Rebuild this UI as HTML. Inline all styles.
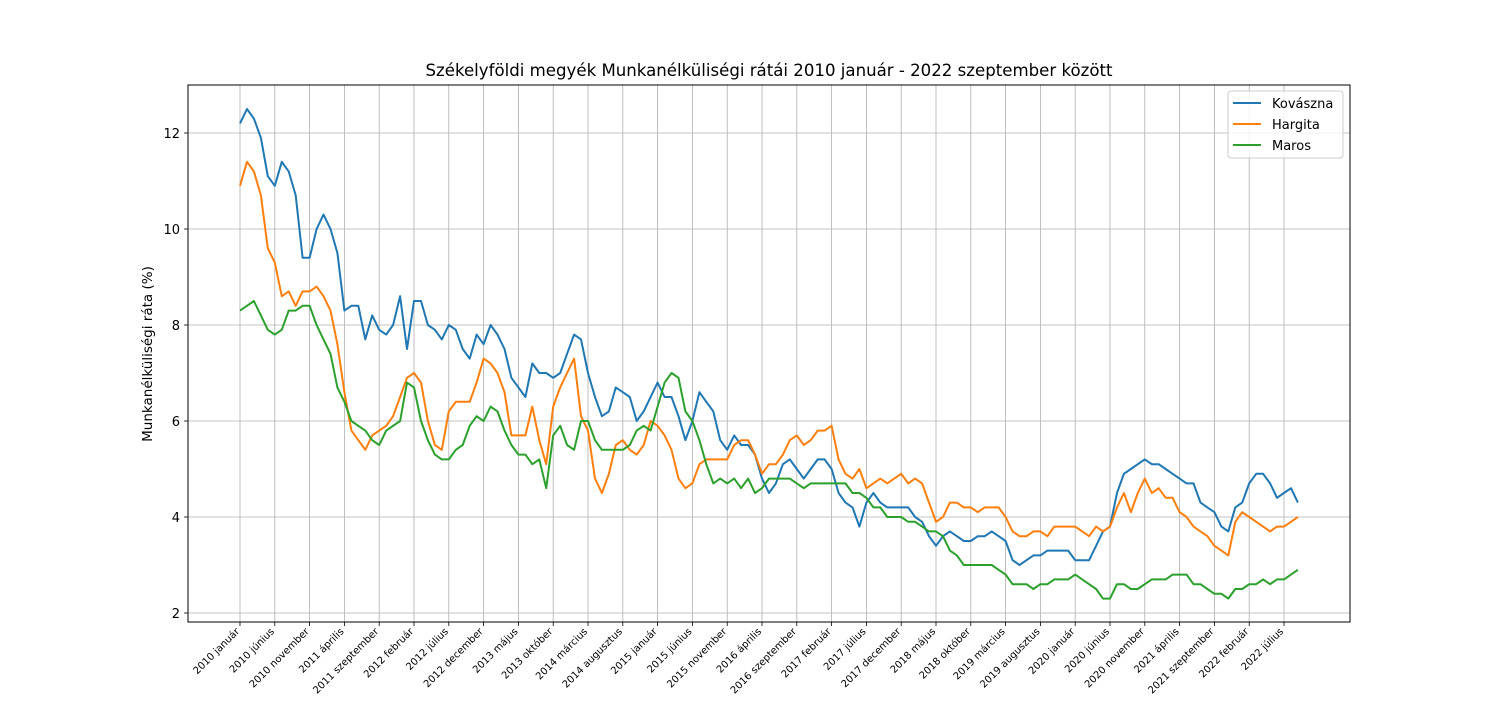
<!DOCTYPE html>
<html><head><meta charset="utf-8"><style>
body{margin:0;background:#fff;}
svg text{font-family:"DejaVu Sans","Liberation Sans",sans-serif;}
</style></head><body>
<svg id="chart" width="1500" height="700" xmlns="http://www.w3.org/2000/svg"></svg>
<script>
const months=["január","február","március","április","május","június","július","augusztus","szeptember","október","november","december"];
const yTicks=[2,4,6,8,10,12];
const kovaszna=[12.2,12.5,12.3,11.9,11.1,10.9,11.4,11.2,10.7,9.4,9.4,10.0,10.3,10.0,9.5,8.3,8.4,8.4,7.7,8.2,7.9,7.8,8.0,8.6,7.5,8.5,8.5,8.0,7.9,7.7,8.0,7.9,7.5,7.3,7.8,7.6,8.0,7.8,7.5,6.9,6.7,6.5,7.2,7.0,7.0,6.9,7.0,7.4,7.8,7.7,7.0,6.5,6.1,6.2,6.7,6.6,6.5,6.0,6.2,6.5,6.8,6.5,6.5,6.1,5.6,6.0,6.6,6.4,6.2,5.6,5.4,5.7,5.5,5.5,5.3,4.8,4.5,4.7,5.1,5.2,5.0,4.8,5.0,5.2,5.2,5.0,4.5,4.3,4.2,3.8,4.3,4.5,4.3,4.2,4.2,4.2,4.2,4.0,3.9,3.6,3.4,3.6,3.7,3.6,3.5,3.5,3.6,3.6,3.7,3.6,3.5,3.1,3.0,3.1,3.2,3.2,3.3,3.3,3.3,3.3,3.1,3.1,3.1,3.4,3.7,3.8,4.5,4.9,5.0,5.1,5.2,5.1,5.1,5.0,4.9,4.8,4.7,4.7,4.3,4.2,4.1,3.8,3.7,4.2,4.3,4.7,4.9,4.9,4.7,4.4,4.5,4.6,4.3];
const hargita=[10.9,11.4,11.2,10.7,9.6,9.3,8.6,8.7,8.4,8.7,8.7,8.8,8.6,8.3,7.6,6.6,5.8,5.6,5.4,5.7,5.8,5.9,6.1,6.5,6.9,7.0,6.8,6.0,5.5,5.4,6.2,6.4,6.4,6.4,6.8,7.3,7.2,7.0,6.6,5.7,5.7,5.7,6.3,5.6,5.1,6.3,6.7,7.0,7.3,6.1,5.8,4.8,4.5,4.9,5.5,5.6,5.4,5.3,5.5,6.0,5.9,5.7,5.4,4.8,4.6,4.7,5.1,5.2,5.2,5.2,5.2,5.5,5.6,5.6,5.3,4.9,5.1,5.1,5.3,5.6,5.7,5.5,5.6,5.8,5.8,5.9,5.2,4.9,4.8,5.0,4.6,4.7,4.8,4.7,4.8,4.9,4.7,4.8,4.7,4.3,3.9,4.0,4.3,4.3,4.2,4.2,4.1,4.2,4.2,4.2,4.0,3.7,3.6,3.6,3.7,3.7,3.6,3.8,3.8,3.8,3.8,3.7,3.6,3.8,3.7,3.8,4.2,4.5,4.1,4.5,4.8,4.5,4.6,4.4,4.4,4.1,4.0,3.8,3.7,3.6,3.4,3.3,3.2,3.9,4.1,4.0,3.9,3.8,3.7,3.8,3.8,3.9,4.0];
const maros=[8.3,8.4,8.5,8.2,7.9,7.8,7.9,8.3,8.3,8.4,8.4,8.0,7.7,7.4,6.7,6.4,6.0,5.9,5.8,5.6,5.5,5.8,5.9,6.0,6.8,6.7,6.0,5.6,5.3,5.2,5.2,5.4,5.5,5.9,6.1,6.0,6.3,6.2,5.8,5.5,5.3,5.3,5.1,5.2,4.6,5.7,5.9,5.5,5.4,6.0,6.0,5.6,5.4,5.4,5.4,5.4,5.5,5.8,5.9,5.8,6.3,6.8,7.0,6.9,6.2,6.0,5.6,5.1,4.7,4.8,4.7,4.8,4.6,4.8,4.5,4.6,4.8,4.8,4.8,4.8,4.7,4.6,4.7,4.7,4.7,4.7,4.7,4.7,4.5,4.5,4.4,4.2,4.2,4.0,4.0,4.0,3.9,3.9,3.8,3.7,3.7,3.6,3.3,3.2,3.0,3.0,3.0,3.0,3.0,2.9,2.8,2.6,2.6,2.6,2.5,2.6,2.6,2.7,2.7,2.7,2.8,2.7,2.6,2.5,2.3,2.3,2.6,2.6,2.5,2.5,2.6,2.7,2.7,2.7,2.8,2.8,2.8,2.6,2.6,2.5,2.4,2.4,2.3,2.5,2.5,2.6,2.6,2.7,2.6,2.7,2.7,2.8,2.9];
const seriesNames=["Kovászna","Hargita","Maros"];
const colors=["#1f77b4","#ff7f0e","#2ca02c"];

const svg=document.getElementById('chart');
const NS="http://www.w3.org/2000/svg";
function mk(tag,attrs,parent){const e=document.createElementNS(NS,tag);for(const k in attrs)e.setAttribute(k,attrs[k]);(parent||svg).appendChild(e);return e;}
const L=188,R=1350,T=85,B=622;
const xS=i=>240+i*(1284-240)/150;
const yS=v=>613-(v-2)*48;

const grid=mk('g',{});


for(let i=0;i<kovaszna.length;i+=5){
  const x=xS(i);
  mk('line',{x1:x,x2:x,y1:T,y2:B,stroke:'#b0b0b0','stroke-width':0.8},grid);
  mk('line',{x1:x,x2:x,y1:B,y2:B+4,stroke:'#000','stroke-width':0.8});
  const lbl=(2010+Math.floor(i/12))+" "+months[i%12];
  const ax=x, ay=B+10;
  const t=mk('text',{x:ax,y:ay,'font-size':10,'text-anchor':'end',transform:`rotate(-45 ${ax} ${ay})`});
  
  
  t.textContent=lbl;
}
yTicks.forEach(v=>{
  const y=yS(v);
  mk('line',{x1:L,x2:R,y1:y,y2:y,stroke:'#b0b0b0','stroke-width':0.8},grid);
  mk('line',{x1:L-4,x2:L,y1:y,y2:y,stroke:'#000','stroke-width':0.8});
  const t=mk('text',{x:L-8,y:y+5,'font-size':13,'text-anchor':'end'});
  
  
  t.textContent=v;
});
[kovaszna,hargita,maros].forEach((d,s)=>{
  const p=mk('polyline',{points:d.map((v,i)=>xS(i).toFixed(1)+','+yS(v).toFixed(1)).join(' '),fill:'none',stroke:colors[s],'stroke-width':2,'stroke-linejoin':'round'});
  
  
});
const frame=mk('rect',{x:L,y:T,width:R-L,height:B-T,fill:'none',stroke:'#000','stroke-width':1});


const title=mk('text',{x:769,y:76,'font-size':16.6,'text-anchor':'middle'});


title.textContent="Székelyföldi megyék Munkanélküliségi rátái 2010 január - 2022 szeptember között";
const yl=mk('text',{x:152,y:354,'font-size':13.5,'text-anchor':'middle',transform:'rotate(-90 152 354)'});


yl.textContent="Munkanélküliségi ráta (%)";
const lg=mk('g',{});


mk('rect',{x:1228,y:91,width:115,height:67,rx:3,fill:'#fff','fill-opacity':0.8,stroke:'#ccc'},lg);
seriesNames.forEach((n,s)=>{
  const y=103+s*21;
  mk('line',{x1:1233,x2:1261,y1:y,y2:y,stroke:colors[s],'stroke-width':2},lg);
  const t=mk('text',{x:1272,y:y+5,'font-size':13},lg);
  
  
  t.textContent=n;
});
</script>
</body></html>
